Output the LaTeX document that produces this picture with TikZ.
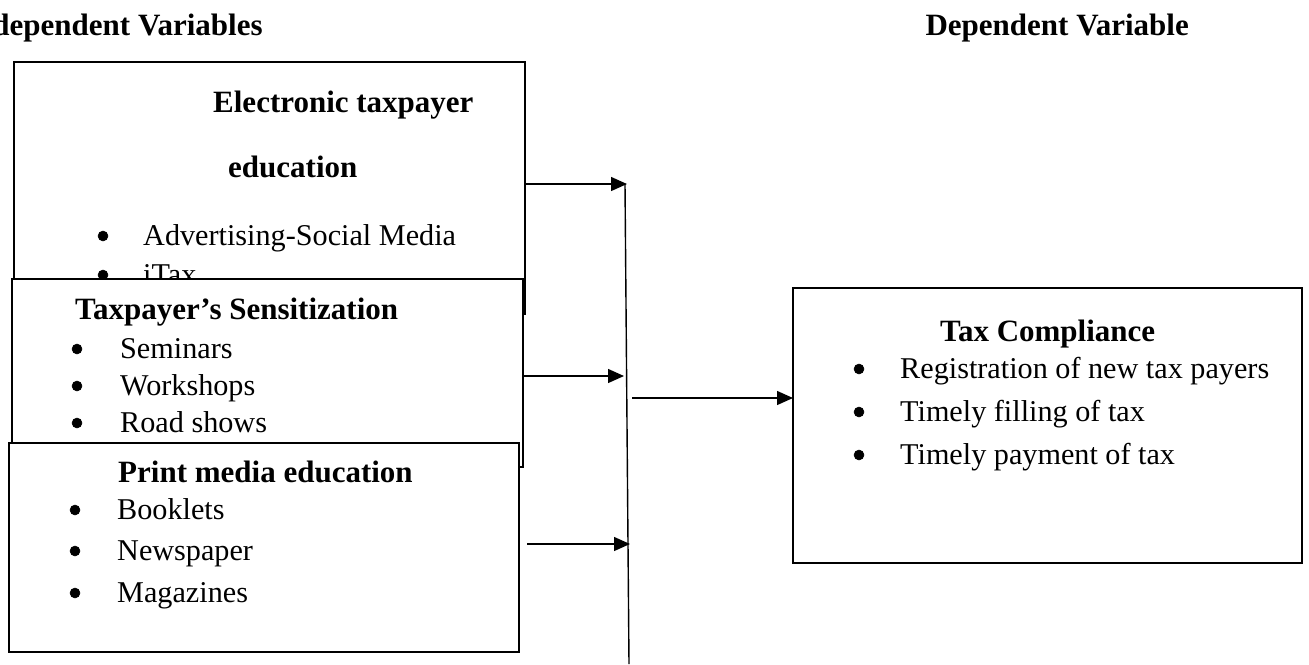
\documentclass[tikz,border=0pt]{standalone}
\usepackage{fontspec}
\setmainfont{Liberation Serif}
\usetikzlibrary{arrows.meta}
\begin{document}
\begin{tikzpicture}[x=1pt,y=-1pt,
  box/.style={draw, line width=2pt, fill=white, inner sep=0pt, outer sep=0pt},
  txt/.style={anchor=base west, inner sep=0pt, font=\fontsize{30.2}{36}\selectfont},
  ttl/.style={txt, font=\fontsize{31}{36}\selectfont\bfseries},
  bul/.style={circle, draw=black, fill=black, line width=0.5pt, inner sep=0pt, minimum size=10pt},
  ln/.style={line width=1.4pt},
  arr/.style={line width=1.4pt, -{Triangle[length=16pt,width=14pt]}}]
\useasboundingbox (0,0) rectangle (1309,664);
% headers
\node[ttl] (hi) at (-37,35) {Independent Variables};
\node[ttl, anchor=base east] (hd) at (1189,35) {Dependent Variable};
% box 1
\node[box, anchor=north west, minimum width=511pt, minimum height=252pt] (b1) at (14,62) {};
\node[ttl] (t1) at (213,112) {Electronic taxpayer};
\node[ttl] (t1b) at (228,177) {education};
\node[bul] (b1u1) at (103,236) {};
\node[txt] (b1i1) at (143,245) {Advertising-Social Media};
\node[bul] (b1u2) at (103,275) {};
\node[txt] (b1i2) at (143,284) {iTax};
% box 2
\node[box, anchor=north west, minimum width=511pt, minimum height=188pt] (b2) at (12,279) {};
\node[ttl] (t2) at (75,319) {Taxpayer’s Sensitization};
\node[bul] (b2u1) at (77,349) {};
\node[txt] (b2i1) at (120,358) {Seminars};
\node[bul] (b2u2) at (77,386) {};
\node[txt] (b2i2) at (120,395) {Workshops};
\node[bul] (b2u3) at (77,423) {};
\node[txt] (b2i3) at (120,432) {Road shows};
% box 3
\node[box, anchor=north west, minimum width=510pt, minimum height=209pt] (b3) at (9,443) {};
\node[ttl] (t3) at (118,482) {Print media education};
\node[bul] (b3u1) at (75,510) {};
\node[txt] (b3i1) at (117,519) {Booklets};
\node[bul] (b3u2) at (75,551) {};
\node[txt] (b3i2) at (117,560) {Newspaper};
\node[bul] (b3u3) at (75,593) {};
\node[txt] (b3i3) at (117,602) {Magazines};
% box 4
\node[box, anchor=north west, minimum width=509pt, minimum height=275pt] (b4) at (793,288) {};
\node[ttl] (t4) at (940,341) {Tax Compliance};
\node[bul] (b4u1) at (859,369) {};
\node[txt] (b4i1) at (900,378) {Registration of new tax payers};
\node[bul] (b4u2) at (859,412) {};
\node[txt] (b4i2) at (900,421) {Timely filling of tax};
\node[bul] (b4u3) at (859,455) {};
\node[txt] (b4i3) at (900,464) {Timely payment of tax};
% connectors
\coordinate (jt) at (625,184);
\coordinate (jb) at (629,664);
\coordinate (j1) at (627,184);
\coordinate (j2) at (624,376);
\coordinate (s2) at (522,376);
\coordinate (j3) at (630,544);
\coordinate (s3) at (527,544);
\coordinate (j4) at (632,398);
\draw[ln] (jt) -- (jb);
\draw[arr] (b1.east |- j1) -- (j1);
\draw[arr] (s2) -- (j2);
\draw[arr] (s3) -- (j3);
\draw[arr] (j4) -- (j4 -| b4.west);
\end{tikzpicture}
\end{document}
